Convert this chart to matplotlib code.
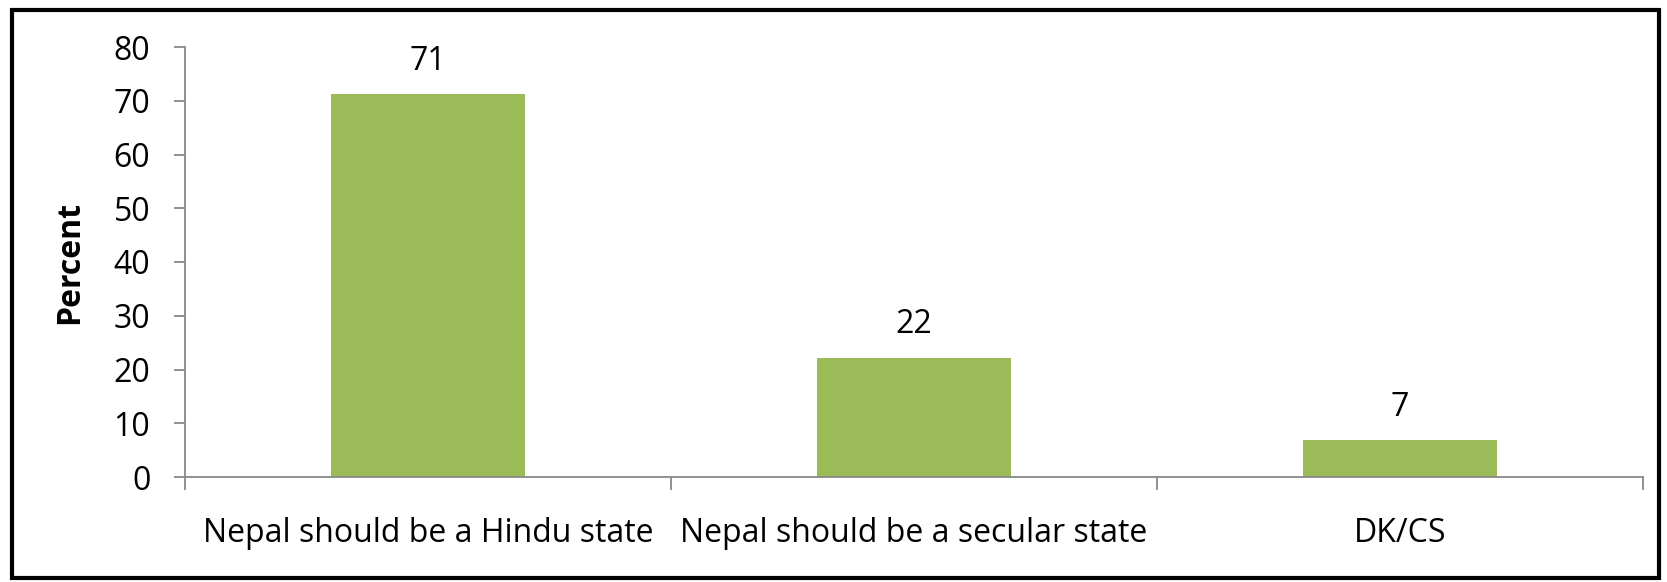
import matplotlib
matplotlib.use("Agg")
import matplotlib.pyplot as plt
from matplotlib.patches import Rectangle
from matplotlib.ticker import FixedLocator, NullFormatter

categories = ["Nepal should be a Hindu state", "Nepal should be a secular state", "DK/CS"]
values = [71.2, 22.2, 6.8]
labels = ["71", "22", "7"]
yticks = [0, 10, 20, 30, 40, 50, 60, 70, 80]

plt.rcParams['font.family'] = ['Open Sans', 'DejaVu Sans']
FS = 23

W, H = 1667, 582
fig = plt.figure(figsize=(W/100, H/100), dpi=100)
ax = fig.add_axes([185/W, 1-477/H, (1643-185)/W, (477-47)/H])

x = list(range(len(categories)))
ax.bar(x, values, width=0.4, color="#9BBB59", zorder=2)
for xi, v, lab in zip(x, values, labels):
    ax.annotate(lab, (xi, v), xytext=(0, 12), textcoords="offset points",
                ha="center", va="bottom", fontsize=FS)

ax.set_xlim(-0.5, len(categories)-0.5)
ax.set_ylim(0, 80)
ax.set_yticks(yticks)
ax.set_yticklabels([str(t) for t in yticks], fontsize=FS)
ax.xaxis.set_major_locator(FixedLocator([i - 0.5 for i in range(len(categories)+1)]))
ax.xaxis.set_major_formatter(NullFormatter())
ax.xaxis.set_minor_locator(FixedLocator(x))
ax.set_xticklabels(categories, minor=True, fontsize=FS)
ax.tick_params(axis="x", which="minor", length=0, pad=29)
ax.tick_params(axis="x", which="major", length=9, color="#888888", width=1.3)
ax.tick_params(axis="y", length=8, color="#888888", width=1.3, pad=17)

for s in ["top", "right"]:
    ax.spines[s].set_visible(False)
for s in ["left", "bottom"]:
    ax.spines[s].set_color("#888888")
    ax.spines[s].set_linewidth(1.3)

fig.text(70/W, 1-(262/H), "Percent", rotation=90, ha="center", va="center",
         fontsize=FS, fontweight="bold")

fig.patches.append(Rectangle((12/W, 1-578/H), (1659-12)/W, (578-10)/H,
                             transform=fig.transFigure, fill=False,
                             edgecolor="black", linewidth=3))

fig.savefig("out.png", dpi=100)
